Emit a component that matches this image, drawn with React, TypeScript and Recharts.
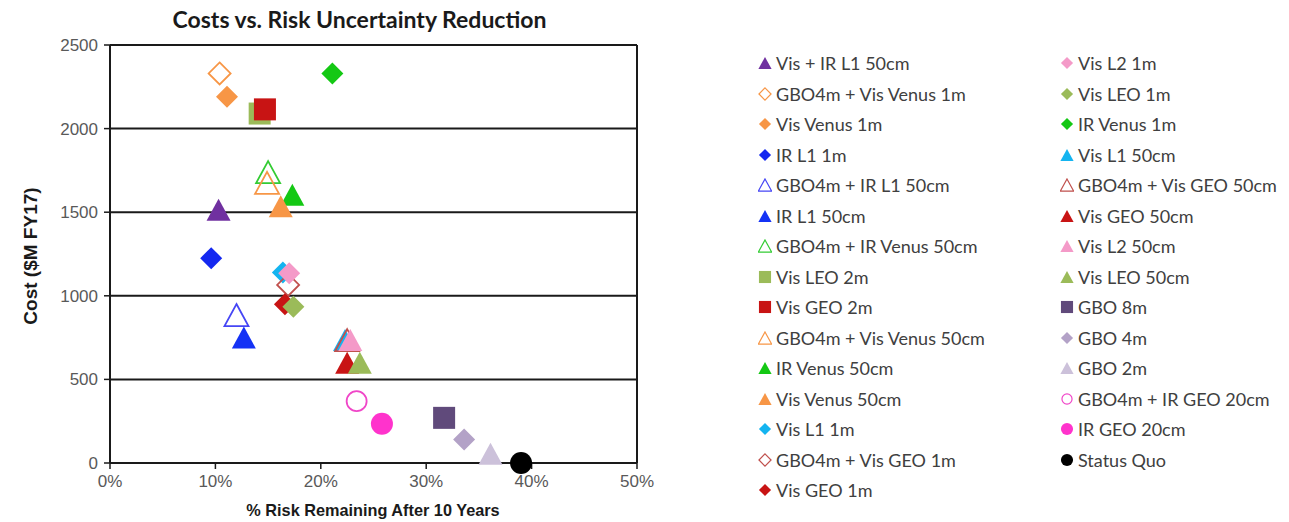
import {
  CartesianGrid,
  Label,
  ReferenceLine,
  Scatter,
  ScatterChart,
  XAxis,
  YAxis,
} from "recharts";

type Kind = "triangle" | "diamond" | "square" | "circle";

// one entry per series, same order everywhere (legend is column-major)
const seriesNames = [
  "Vis + IR L1 50cm",
  "GBO4m + Vis Venus 1m",
  "Vis Venus 1m",
  "IR L1 1m",
  "GBO4m + IR L1 50cm",
  "IR L1 50cm",
  "GBO4m + IR Venus 50cm",
  "Vis LEO 2m",
  "Vis GEO 2m",
  "GBO4m + Vis Venus 50cm",
  "IR Venus 50cm",
  "Vis Venus 50cm",
  "Vis L1 1m",
  "GBO4m + Vis GEO 1m",
  "Vis GEO 1m",
  "Vis L2 1m",
  "Vis LEO 1m",
  "IR Venus 1m",
  "Vis L1 50cm",
  "GBO4m + Vis GEO 50cm",
  "Vis GEO 50cm",
  "Vis L2 50cm",
  "Vis LEO 50cm",
  "GBO 8m",
  "GBO 4m",
  "GBO 2m",
  "GBO4m + IR GEO 20cm",
  "IR GEO 20cm",
  "Status Quo",
];

const seriesKinds: Kind[] = [
  "triangle", "diamond", "diamond", "diamond", "triangle",
  "triangle", "triangle", "square", "square", "triangle",
  "triangle", "triangle", "diamond", "diamond", "diamond",
  "diamond", "diamond", "diamond", "triangle", "triangle",
  "triangle", "triangle", "triangle", "square", "diamond",
  "triangle", "circle", "circle", "circle",
];

const seriesColors = [
  "#7030A0", "#F79646", "#F79646", "#1428F0", "#4646F5",
  "#1432F5", "#33CC33", "#9BBB59", "#C81414", "#F79646",
  "#14C814", "#F79646", "#14B4F0", "#C0504D", "#C81414",
  "#F49AC8", "#9BBB59", "#14C814", "#14B4F0", "#C0504D",
  "#C81414", "#F49AC8", "#9BBB59", "#604A7B", "#B3A2C7",
  "#CCC1DA", "#F046C8", "#FF33CC", "#000000",
];

const seriesOpen = [
  false, true, false, false, true,
  false, true, false, false, true,
  false, false, false, true, false,
  false, false, false, false, true,
  false, false, false, false, false,
  false, true, false, false,
];

// % risk remaining after 10 years
const riskPct = [
  10.3, 10.4, 11.1, 9.6, 12.0,
  12.7, 15.0, 14.2, 14.7, 14.9,
  17.3, 16.2, 16.4, 16.9, 16.6,
  17.0, 17.4, 21.1, 22.3, 22.5,
  22.5, 22.8, 23.7, 31.7, 33.6,
  36.1, 23.4, 25.8, 39.0,
];

// cost, $M FY17
const costM = [
  1515, 2330, 2190, 1225, 885,
  750, 1740, 2090, 2115, 1675,
  1605, 1535, 1140, 1065, 950,
  1135, 935, 2330, 735, 735,
  600, 735, 600, 270, 140,
  55, 370, 235, 0,
];

const xTicks = [0, 10, 20, 30, 40, 50];
const yTicks = [0, 500, 1000, 1500, 2000, 2500];

function Marker({
  cx,
  cy,
  kind,
  color,
  open,
  scale = 1,
}: {
  cx: number;
  cy: number;
  kind: Kind;
  color: string;
  open: boolean;
  scale?: number;
}) {
  const fill = open ? "none" : color;
  const stroke = open ? color : "none";
  const sw = open ? (scale < 1 ? 1.2 : 1.8) : 0;
  if (kind === "circle") {
    const r = 11 * scale;
    return <circle cx={cx} cy={cy} r={open ? r - 1 : r} fill={fill} stroke={stroke} strokeWidth={sw} />;
  }
  if (kind === "square") {
    const s = 22 * scale;
    return <rect x={cx - s / 2} y={cy - s / 2} width={s} height={s} fill={fill} stroke={stroke} strokeWidth={sw} />;
  }
  if (kind === "diamond") {
    const d = 11 * scale;
    return (
      <polygon
        points={`${cx},${cy - d} ${cx + d},${cy} ${cx},${cy + d} ${cx - d},${cy}`}
        fill={fill}
        stroke={stroke}
        strokeWidth={sw}
      />
    );
  }
  const w = 24 * scale;
  const h = 22 * scale;
  return (
    <polygon
      points={`${cx},${cy - h / 2} ${cx + w / 2},${cy + h / 2} ${cx - w / 2},${cy + h / 2}`}
      fill={fill}
      stroke={stroke}
      strokeWidth={sw}
    />
  );
}

function LegendBlock() {
  return (
    <div
      style={{
        position: "absolute",
        left: 758,
        top: 53,
        width: 530,
        height: 460,
        fontFamily: "Lato, sans-serif",
        fontSize: 18,
        color: "#404040",
      }}
    >
      {seriesNames.map((name, i) => {
        const col = i < 15 ? 0 : 1;
        const row = col === 0 ? i : i - 15;
        return (
          <div
            key={name}
            style={{
              position: "absolute",
              left: col * 302,
              top: row * 30.5,
              height: 20,
              display: "flex",
              alignItems: "center",
              whiteSpace: "nowrap",
            }}
          >
            <svg width={14} height={14} style={{ display: "block" }}>
              <Marker
                cx={7}
                cy={7}
                kind={seriesKinds[i]}
                color={seriesColors[i]}
                open={seriesOpen[i]}
                scale={0.55}
              />
            </svg>
            <span style={{ marginLeft: 4 }}>{name}</span>
          </div>
        );
      })}
    </div>
  );
}

const axisFont = { fontFamily: "Liberation Sans, Arial, sans-serif", fontSize: 17, fill: "#595959" };

export default function App() {
  return (
    <div style={{ position: "absolute", left: 0, top: 0, width: 1289, height: 522, background: "#fff" }}>
      <ScatterChart width={1289} height={522} margin={{ top: 45, right: 652, bottom: 9, left: 10 }}>
        <CartesianGrid vertical={false} stroke="#1a1a1a" strokeWidth={2} />
        <XAxis
          type="number"
          dataKey="risk"
          domain={[0, 50]}
          ticks={xTicks}
          tickFormatter={(v: number) => `${v}%`}
          tick={axisFont}
          tickLine={{ stroke: "#1a1a1a", strokeWidth: 1.5 }}
          axisLine={{ stroke: "#1a1a1a", strokeWidth: 2 }}
          tickSize={6}
          tickMargin={6}
          height={50}
        >
          <Label
            content={() => (
              <text
                x={373}
                y={516}
                textAnchor="middle"
                fontFamily="Liberation Sans, Arial, sans-serif"
                fontWeight={700}
                fontSize={16.3}
                fill="#1a1a1a"
              >
                % Risk Remaining After 10 Years
              </text>
            )}
          />
        </XAxis>
        <YAxis
          type="number"
          dataKey="cost"
          domain={[0, 2500]}
          ticks={yTicks}
          tick={axisFont}
          tickLine={{ stroke: "#1a1a1a", strokeWidth: 1.5 }}
          axisLine={{ stroke: "#1a1a1a", strokeWidth: 2 }}
          tickSize={6}
          tickMargin={6}
          width={100}
        >
          <Label
            content={() => (
              <text
                x={37}
                y={256}
                transform="rotate(-90 37 256)"
                textAnchor="middle"
                fontFamily="Liberation Sans, Arial, sans-serif"
                fontWeight={700}
                fontSize={19}
                fill="#1a1a1a"
              >
                Cost ($M FY17)
              </text>
            )}
          />
        </YAxis>
        <ReferenceLine x={50} stroke="#1a1a1a" strokeWidth={2} />
        {seriesNames.map((name, i) => (
          <Scatter
            key={name}
            name={name}
            data={[{ risk: riskPct[i], cost: costM[i] }]}
            fill={seriesColors[i]}
            isAnimationActive={false}
            shape={(p: { cx?: number; cy?: number }) => (
              <Marker
                cx={p.cx ?? 0}
                cy={p.cy ?? 0}
                kind={seriesKinds[i]}
                color={seriesColors[i]}
                open={seriesOpen[i]}
              />
            )}
          />
        ))}
      </ScatterChart>
      <div
        style={{
          position: "absolute",
          left: 96,
          width: 527,
          top: 5,
          textAlign: "center",
          fontFamily: "Lato, sans-serif",
          fontWeight: 700,
          fontSize: 23,
          color: "#1a1a1a",
        }}
      >
        Costs vs. Risk Uncertainty Reduction
      </div>
      <LegendBlock />
    </div>
  );
}
